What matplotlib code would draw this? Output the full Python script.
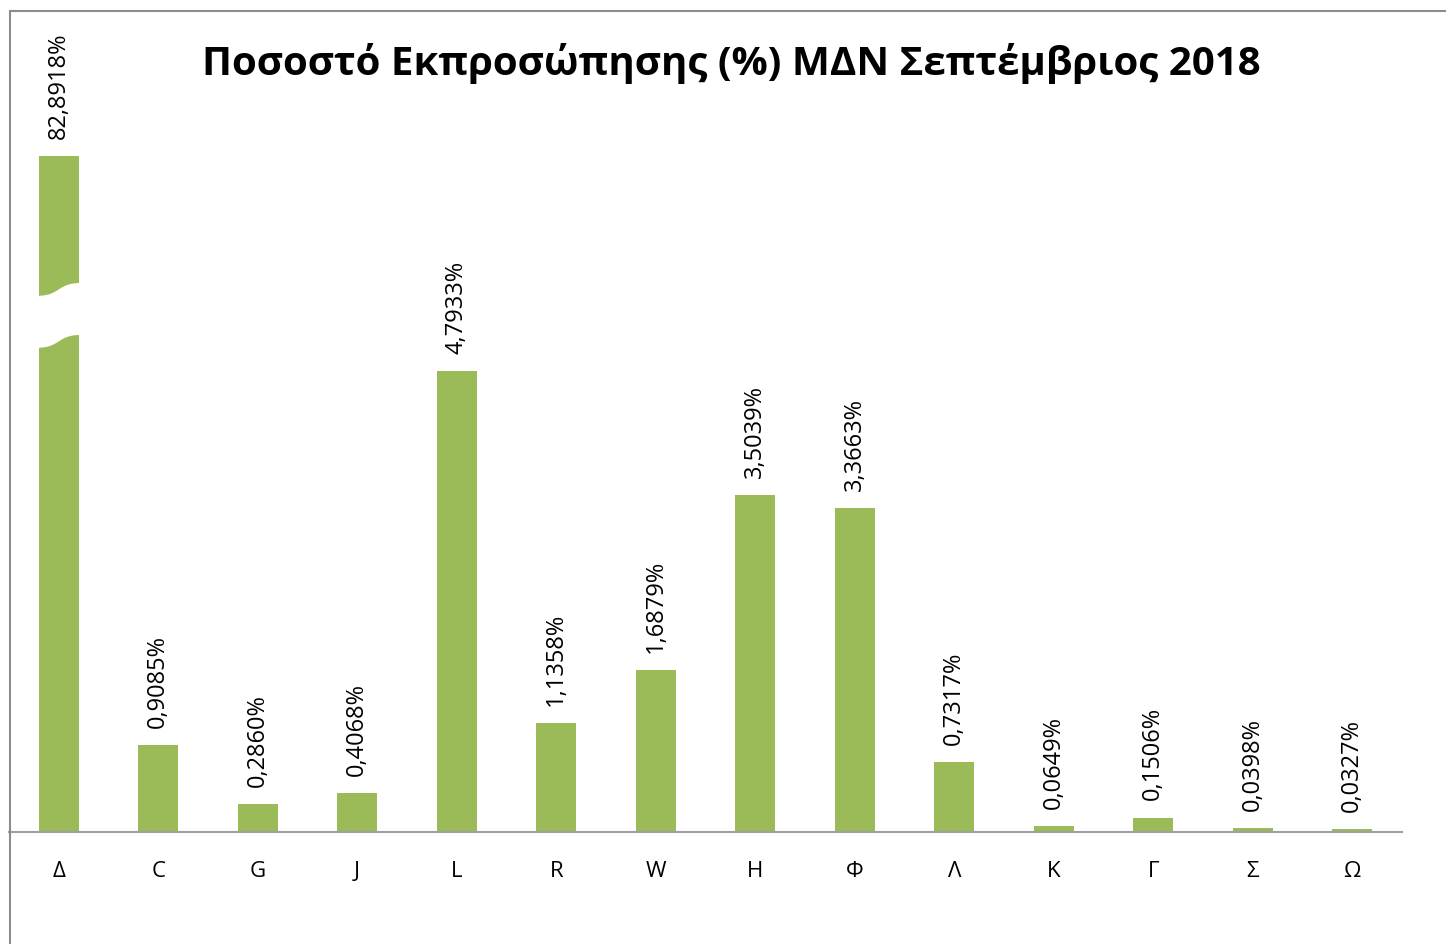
import numpy as np
import matplotlib.pyplot as plt
from matplotlib.patches import Polygon

categories = ['Δ', 'C', 'G', 'J', 'L', 'R', 'W', 'H', 'Φ', 'Λ', 'K', 'Γ', 'Σ', 'Ω']
values = [82.8918, 0.9085, 0.2860, 0.4068, 4.7933, 1.1358, 1.6879, 3.5039, 3.3663,
          0.7317, 0.0649, 0.1506, 0.0398, 0.0327]
labels = ['82,8918%', '0,9085%', '0,2860%', '0,4068%', '4,7933%', '1,1358%', '1,6879%',
          '3,5039%', '3,3663%', '0,7317%', '0,0649%', '0,1506%', '0,0398%', '0,0327%']

cap = 7.03      # visible height of the broken bar
brk = 5.37      # where the break sits on the broken bar
bar_color = '#9BBB59'

plt.rcParams['font.family'] = ['Open Sans', 'DejaVu Sans']

fig = plt.figure(figsize=(14.46, 9.45), dpi=100)
W, H = 1446, 945
ax = fig.add_axes([9 / W, (H - 833) / H, (1402 - 9) / W, (833 - 12) / H])

x = np.arange(len(categories))
shown = [min(v, cap) for v in values]
ax.bar(x, shown, width=0.4, color=bar_color, zorder=2)

ax.set_xlim(-0.5, len(categories) - 0.5)
ax.set_ylim(0, 821 / 96.2)

# break marker on the clipped bar
for i, v in enumerate(values):
    if v > cap:
        t = np.linspace(-1, 1, 30)
        xs = i + 0.32 * t
        s = 0.07 * np.tanh(3 * t)
        top = brk + 0.27 + s
        bot = brk - 0.27 + s
        pts = list(zip(xs, top)) + list(zip(xs[::-1], bot[::-1]))
        ax.add_patch(Polygon(pts, closed=True, facecolor='white', edgecolor='none', zorder=3))

for i, (s, lab) in enumerate(zip(shown, labels)):
    ax.annotate(lab, (i, s), xytext=(0, 13), textcoords='offset points',
                rotation=90, ha='center', va='bottom', fontsize=17, color='black')

ax.set_xticks(x)
ax.set_xticklabels(categories, fontsize=16)
ax.tick_params(axis='x', length=0, pad=20)
ax.set_yticks([])
for side in ['top', 'right', 'left']:
    ax.spines[side].set_visible(False)
ax.spines['bottom'].set_color('#a0a0a0')
ax.spines['bottom'].set_linewidth(1.5)

# chart area border (cropped on right and bottom)
fig.add_artist(plt.Line2D([9.5 / W, 9.5 / W], [0, 1 - 12 / H], color='#8c8c8c', lw=1.5))
fig.add_artist(plt.Line2D([9.5 / W, 1], [1 - 12 / H, 1 - 12 / H], color='#8c8c8c', lw=1.5))

fig.text(731 / W, 1 - 64 / H, 'Ποσοστό Εκπροσώπησης (%) ΜΔΝ Σεπτέμβριος 2018',
         ha='center', va='center', fontsize=29, fontweight='bold')

fig.savefig('out.png', dpi=100)
